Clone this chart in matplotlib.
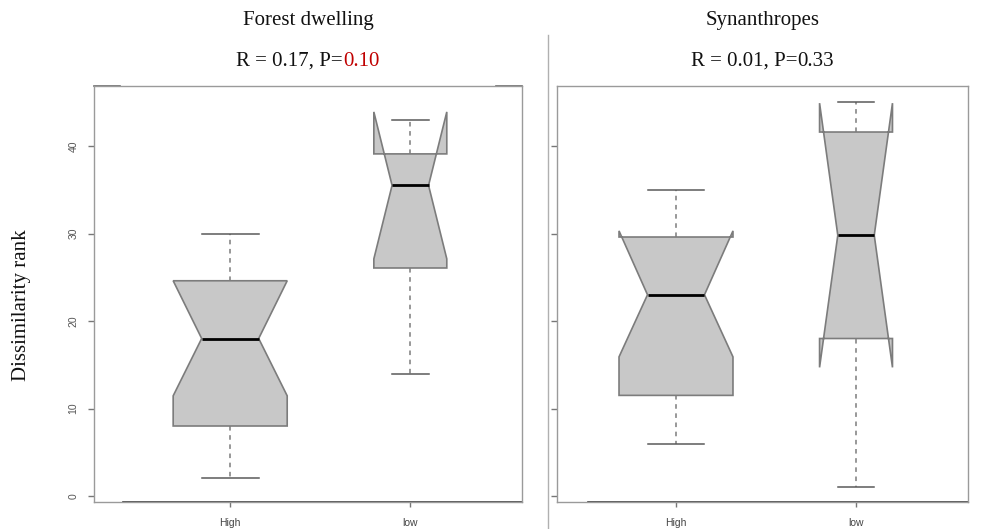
import matplotlib
matplotlib.use("Agg")
import matplotlib.pyplot as plt
from matplotlib.lines import Line2D

# ---- data -------------------------------------------------------------
groups = ["High", "low"]
panel_titles = ["Forest dwelling", "Synanthropes"]
r_values = ["0.17", "0.01"]
p_values = ["0.10", "0.33"]
p_highlight = [True, False]

# five-number summaries per panel: [High, low]
whislo = [[2, 14], [6, 1]]
q1 = [[8, 26.06], [11.5, 18]]
med = [[18, 35.5], [23, 29.8]]
q3 = [[24.6, 39.1], [29.6, 41.6]]
whishi = [[30, 43], [35, 45]]
# notch limits (median confidence interval)
cilo = [[11.45, 27.1], [15.9, 14.7]]
cihi = [[24.6, 43.9], [30.3, 44.9]]

yticks = [0, 10, 20, 30, 40]

# ---- figure -----------------------------------------------------------
W, H = 984, 529
fig = plt.figure(figsize=(W / 100, H / 100), dpi=100)
fig.patch.set_facecolor("white")

def fx(px):
    return px / W

def fy(py):
    return (H - py) / H

panel_px = [(94, 522), (557, 968)]
top_px, bot_px = 86, 502
xlims = [(0.244, 2.62), (0.339, 2.622)]
widths = [0.633, 0.405]

serif = "Liberation Serif"
sans = "Liberation Sans"
frame_col = "#9a9a9a"
red = "#c00000"

for i, (x0, x1) in enumerate(panel_px):
    ax = fig.add_axes([fx(x0), fy(bot_px), fx(x1) - fx(x0), fy(top_px) - fy(bot_px)])
    stats = []
    for j, g in enumerate(groups):
        stats.append(dict(label=g, whislo=whislo[i][j], q1=q1[i][j], med=med[i][j],
                          q3=q3[i][j], whishi=whishi[i][j], cilo=cilo[i][j],
                          cihi=cihi[i][j], fliers=[]))
    ax.bxp(stats, positions=[1, 2], widths=widths, shownotches=True,
           patch_artist=True, showfliers=False,
           boxprops=dict(facecolor="#c8c8c8", edgecolor="#7c7c7c", linewidth=1.2),
           medianprops=dict(color="black", linewidth=2.0),
           whiskerprops=dict(color="#7c7c7c", linewidth=1.1, linestyle=(0, (3, 3))),
           capprops=dict(color="#5a5a5a", linewidth=1.1))
    ax.set_xlim(*xlims[i])
    ax.set_ylim(-0.686, 46.86)
    ax.set_yticks(yticks)
    ax.set_xticks([1, 2])
    ax.set_xticklabels(groups, fontsize=7.5, family=sans, color="#444444")
    if i == 0:
        ax.set_yticklabels([str(v) for v in yticks], fontsize=7.5, family=sans,
                           color="#555555", rotation=90, va="center")
    else:
        ax.set_yticklabels([])
    ax.tick_params(axis="x", length=3.6, width=1, color="#777777", pad=8)
    ax.tick_params(axis="y", length=4.3, width=1, color="#777777", pad=7)
    for s in ax.spines.values():
        s.set_color(frame_col)
        s.set_linewidth(1.0)
    # darker baseline along the bottom and short darker stubs on the top edge
    start = 0.068 if i == 0 else 0.075
    ax.add_line(Line2D([start, 1], [0, 0], transform=ax.transAxes, color="#3a3a3a",
                       linewidth=1.2, clip_on=False))
    if i == 0:
        ax.add_line(Line2D([0, 0.06], [1, 1], transform=ax.transAxes, color="#6a6a6a",
                           linewidth=1.2, clip_on=False))
        ax.add_line(Line2D([0.94, 1], [1, 1], transform=ax.transAxes, color="#6a6a6a",
                           linewidth=1.2, clip_on=False))

    # panel headings
    cx = fx((x0 + x1) / 2)
    fig.text(cx, fy(21), panel_titles[i], ha="center", va="center",
             fontsize=15, family=serif, color="#111111")
    t1 = fig.text(cx, fy(61), f"R = {r_values[i]}, P=", ha="left", va="center",
                  fontsize=15, family=serif, color="#111111")
    t2 = fig.text(cx, fy(61), p_values[i], ha="left", va="center",
                  fontsize=15, family=serif,
                  color=red if p_highlight[i] else "#111111")
    fig.canvas.draw()
    r = fig.canvas.get_renderer()
    w1 = t1.get_window_extent(r).width
    w2 = t2.get_window_extent(r).width
    left = (x0 + x1) / 2 - (w1 + w2) / 2
    t1.set_x(fx(left))
    t2.set_x(fx(left + w1))

# y-axis title
fig.text(fx(22), fy(305), "Dissimilarity rank", rotation=90, ha="center", va="center",
         fontsize=15, family=serif, color="#111111")

# divider between panels
fig.add_artist(Line2D([fx(548), fx(548)], [fy(35), 0], color="#b0b0b0", linewidth=1.0))

fig.savefig("out.png", dpi=100, facecolor="white")
